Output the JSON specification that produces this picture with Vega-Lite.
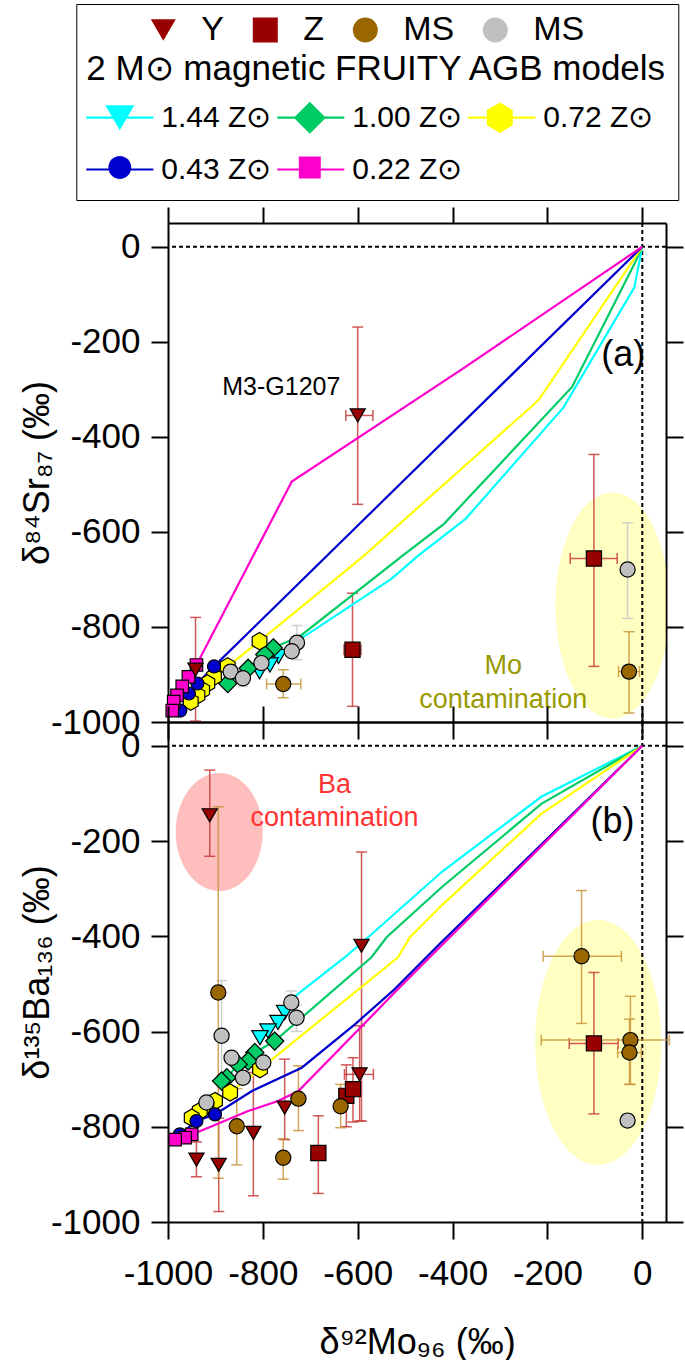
{
"$schema":"https://vega.github.io/schema/vega-lite/v6.json",
"background":"white",
"padding":{"left":19,"top":3,"right":0,"bottom":0},
"spacing":0,
"bounds":"flush",
"config":{
 "view":{"stroke":null},
 "axis":{"domainColor":"black","domainWidth":2,"tickColor":"black","tickWidth":2,"labelFont":"Liberation Sans","labelFontSize":35,"labelColor":"black","titleFont":"Liberation Sans","titleFontSize":36,"titleFontWeight":"normal","titleColor":"black","grid":false,"labelFlush":false,"labelOverlap":false},
 "legend":{"labelFont":"Liberation Sans","titleFont":"Liberation Sans","labelColor":"black","titleColor":"black","labelLimit":0,"titleLimit":0}
},
"datasets":{
 "origin":[{"x":0,"y":0}],
 "regions":[
  {"panel":"a","region":"Mo contamination","x":-63,"y":-755},
  {"panel":"b","region":"Mo contamination","x":-93,"y":-623},
  {"panel":"b","region":"Ba contamination","x":-892,"y":-181}
 ],
 "notes":[
  {"panel":"a","label":"(a)","x":-40,"y":-227},
  {"panel":"a","label":"M3-G1207","x":-761,"y":-295},
  {"panel":"a","label":"Mo\ncontamination","x":-293,"y":-882},
  {"panel":"b","label":"(b)","x":-63,"y":-160},
  {"panel":"b","label":"Ba\ncontamination","x":-649,"y":-82}
 ],
 "models":[
  {"panel":"a","model":"1.44 Z⊙","i":0,"x":0,"y":0,"phase":"O"},
  {"panel":"a","model":"1.44 Z⊙","i":1,"x":-17,"y":-86,"phase":"O"},
  {"panel":"a","model":"1.44 Z⊙","i":2,"x":-166,"y":-338,"phase":"O"},
  {"panel":"a","model":"1.44 Z⊙","i":3,"x":-372,"y":-572,"phase":"O"},
  {"panel":"a","model":"1.44 Z⊙","i":4,"x":-475,"y":-652,"phase":"O"},
  {"panel":"a","model":"1.44 Z⊙","i":5,"x":-529,"y":-699,"phase":"O"},
  {"panel":"a","model":"1.44 Z⊙","i":6,"x":-707,"y":-816,"phase":"O"},
  {"panel":"a","model":"1.44 Z⊙","i":7,"x":-750,"y":-844,"phase":"O"},
  {"panel":"a","model":"1.44 Z⊙","i":8,"x":-767,"y":-862,"phase":"C"},
  {"panel":"a","model":"1.44 Z⊙","i":9,"x":-785,"y":-880,"phase":"C"},
  {"panel":"a","model":"1.44 Z⊙","i":10,"x":-807,"y":-894,"phase":"C"},
  {"panel":"a","model":"1.00 Z⊙","i":0,"x":0,"y":0,"phase":"O"},
  {"panel":"a","model":"1.00 Z⊙","i":1,"x":-17,"y":-37,"phase":"O"},
  {"panel":"a","model":"1.00 Z⊙","i":2,"x":-148,"y":-295,"phase":"O"},
  {"panel":"a","model":"1.00 Z⊙","i":3,"x":-418,"y":-583,"phase":"O"},
  {"panel":"a","model":"1.00 Z⊙","i":4,"x":-508,"y":-652,"phase":"O"},
  {"panel":"a","model":"1.00 Z⊙","i":5,"x":-721,"y":-819,"phase":"O"},
  {"panel":"a","model":"1.00 Z⊙","i":6,"x":-778,"y":-844,"phase":"C"},
  {"panel":"a","model":"1.00 Z⊙","i":7,"x":-796,"y":-858,"phase":"C"},
  {"panel":"a","model":"1.00 Z⊙","i":8,"x":-831,"y":-887,"phase":"C"},
  {"panel":"a","model":"1.00 Z⊙","i":9,"x":-874,"y":-919,"phase":"C"},
  {"panel":"a","model":"0.72 Z⊙","i":0,"x":0,"y":0,"phase":"O"},
  {"panel":"a","model":"0.72 Z⊙","i":1,"x":-219,"y":-323,"phase":"O"},
  {"panel":"a","model":"0.72 Z⊙","i":2,"x":-589,"y":-652,"phase":"O"},
  {"panel":"a","model":"0.72 Z⊙","i":3,"x":-807,"y":-830,"phase":"C"},
  {"panel":"a","model":"0.72 Z⊙","i":4,"x":-874,"y":-883,"phase":"C"},
  {"panel":"a","model":"0.72 Z⊙","i":5,"x":-903,"y":-905,"phase":"C"},
  {"panel":"a","model":"0.72 Z⊙","i":6,"x":-917,"y":-919,"phase":"C"},
  {"panel":"a","model":"0.72 Z⊙","i":7,"x":-928,"y":-933,"phase":"C"},
  {"panel":"a","model":"0.72 Z⊙","i":8,"x":-938,"y":-944,"phase":"C"},
  {"panel":"a","model":"0.72 Z⊙","i":9,"x":-952,"y":-957,"phase":"C"},
  {"panel":"a","model":"0.43 Z⊙","i":0,"x":0,"y":0,"phase":"O"},
  {"panel":"a","model":"0.43 Z⊙","i":1,"x":-903,"y":-883,"phase":"C"},
  {"panel":"a","model":"0.43 Z⊙","i":2,"x":-938,"y":-919,"phase":"C"},
  {"panel":"a","model":"0.43 Z⊙","i":3,"x":-956,"y":-940,"phase":"C"},
  {"panel":"a","model":"0.43 Z⊙","i":4,"x":-974,"y":-976,"phase":"C"},
  {"panel":"a","model":"0.22 Z⊙","i":0,"x":0,"y":0,"phase":"O"},
  {"panel":"a","model":"0.22 Z⊙","i":1,"x":-379,"y":-257,"phase":"O"},
  {"panel":"a","model":"0.22 Z⊙","i":2,"x":-739,"y":-494,"phase":"O"},
  {"panel":"a","model":"0.22 Z⊙","i":3,"x":-940,"y":-880,"phase":"C"},
  {"panel":"a","model":"0.22 Z⊙","i":4,"x":-957,"y":-905,"phase":"C"},
  {"panel":"a","model":"0.22 Z⊙","i":5,"x":-970,"y":-925,"phase":"C"},
  {"panel":"a","model":"0.22 Z⊙","i":6,"x":-981,"y":-944,"phase":"C"},
  {"panel":"a","model":"0.22 Z⊙","i":7,"x":-988,"y":-957,"phase":"C"},
  {"panel":"a","model":"0.22 Z⊙","i":8,"x":-991,"y":-976,"phase":"C"},
  {"panel":"b","model":"1.44 Z⊙","i":0,"x":0,"y":0,"phase":"O"},
  {"panel":"b","model":"1.44 Z⊙","i":1,"x":-213,"y":-107,"phase":"O"},
  {"panel":"b","model":"1.44 Z⊙","i":2,"x":-423,"y":-265,"phase":"O"},
  {"panel":"b","model":"1.44 Z⊙","i":3,"x":-578,"y":-402,"phase":"O"},
  {"panel":"b","model":"1.44 Z⊙","i":4,"x":-627,"y":-444,"phase":"O"},
  {"panel":"b","model":"1.44 Z⊙","i":5,"x":-740,"y":-532,"phase":"O"},
  {"panel":"b","model":"1.44 Z⊙","i":6,"x":-754,"y":-560,"phase":"C"},
  {"panel":"b","model":"1.44 Z⊙","i":7,"x":-768,"y":-581,"phase":"C"},
  {"panel":"b","model":"1.44 Z⊙","i":8,"x":-789,"y":-599,"phase":"C"},
  {"panel":"b","model":"1.44 Z⊙","i":9,"x":-806,"y":-613,"phase":"C"},
  {"panel":"b","model":"1.00 Z⊙","i":0,"x":0,"y":0,"phase":"O"},
  {"panel":"b","model":"1.00 Z⊙","i":1,"x":-213,"y":-122,"phase":"O"},
  {"panel":"b","model":"1.00 Z⊙","i":2,"x":-423,"y":-297,"phase":"O"},
  {"panel":"b","model":"1.00 Z⊙","i":3,"x":-539,"y":-402,"phase":"O"},
  {"panel":"b","model":"1.00 Z⊙","i":4,"x":-571,"y":-444,"phase":"O"},
  {"panel":"b","model":"1.00 Z⊙","i":5,"x":-775,"y":-620,"phase":"C"},
  {"panel":"b","model":"1.00 Z⊙","i":6,"x":-817,"y":-644,"phase":"C"},
  {"panel":"b","model":"1.00 Z⊙","i":7,"x":-831,"y":-662,"phase":"C"},
  {"panel":"b","model":"1.00 Z⊙","i":8,"x":-852,"y":-669,"phase":"C"},
  {"panel":"b","model":"1.00 Z⊙","i":9,"x":-876,"y":-697,"phase":"C"},
  {"panel":"b","model":"1.00 Z⊙","i":10,"x":-887,"y":-704,"phase":"C"},
  {"panel":"b","model":"0.72 Z⊙","i":0,"x":0,"y":0,"phase":"O"},
  {"panel":"b","model":"0.72 Z⊙","i":1,"x":-213,"y":-143,"phase":"O"},
  {"panel":"b","model":"0.72 Z⊙","i":2,"x":-423,"y":-335,"phase":"O"},
  {"panel":"b","model":"0.72 Z⊙","i":3,"x":-490,"y":-402,"phase":"O"},
  {"panel":"b","model":"0.72 Z⊙","i":4,"x":-515,"y":-444,"phase":"O"},
  {"panel":"b","model":"0.72 Z⊙","i":5,"x":-806,"y":-679,"phase":"C"},
  {"panel":"b","model":"0.72 Z⊙","i":6,"x":-869,"y":-728,"phase":"C"},
  {"panel":"b","model":"0.72 Z⊙","i":7,"x":-901,"y":-746,"phase":"C"},
  {"panel":"b","model":"0.72 Z⊙","i":8,"x":-919,"y":-756,"phase":"C"},
  {"panel":"b","model":"0.72 Z⊙","i":9,"x":-933,"y":-767,"phase":"C"},
  {"panel":"b","model":"0.72 Z⊙","i":10,"x":-950,"y":-781,"phase":"C"},
  {"panel":"b","model":"0.43 Z⊙","i":0,"x":0,"y":0,"phase":"O"},
  {"panel":"b","model":"0.43 Z⊙","i":1,"x":-427,"y":-416,"phase":"O"},
  {"panel":"b","model":"0.43 Z⊙","i":2,"x":-522,"y":-511,"phase":"O"},
  {"panel":"b","model":"0.43 Z⊙","i":3,"x":-606,"y":-585,"phase":"O"},
  {"panel":"b","model":"0.43 Z⊙","i":4,"x":-718,"y":-676,"phase":"O"},
  {"panel":"b","model":"0.43 Z⊙","i":5,"x":-823,"y":-725,"phase":"O"},
  {"panel":"b","model":"0.43 Z⊙","i":6,"x":-901,"y":-774,"phase":"C"},
  {"panel":"b","model":"0.43 Z⊙","i":7,"x":-940,"y":-788,"phase":"C"},
  {"panel":"b","model":"0.43 Z⊙","i":8,"x":-975,"y":-816,"phase":"C"},
  {"panel":"b","model":"0.22 Z⊙","i":0,"x":0,"y":0,"phase":"O"},
  {"panel":"b","model":"0.22 Z⊙","i":1,"x":-427,"y":-423,"phase":"O"},
  {"panel":"b","model":"0.22 Z⊙","i":2,"x":-518,"y":-514,"phase":"O"},
  {"panel":"b","model":"0.22 Z⊙","i":3,"x":-725,"y":-725,"phase":"O"},
  {"panel":"b","model":"0.22 Z⊙","i":4,"x":-768,"y":-746,"phase":"O"},
  {"panel":"b","model":"0.22 Z⊙","i":5,"x":-831,"y":-767,"phase":"O"},
  {"panel":"b","model":"0.22 Z⊙","i":6,"x":-915,"y":-802,"phase":"O"},
  {"panel":"b","model":"0.22 Z⊙","i":7,"x":-950,"y":-816,"phase":"C"},
  {"panel":"b","model":"0.22 Z⊙","i":8,"x":-964,"y":-823,"phase":"C"},
  {"panel":"b","model":"0.22 Z⊙","i":9,"x":-985,"y":-827,"phase":"C"}
 ],
 "grains":[
  {"panel":"a","type":"Y","x":-600,"y":-355,"xlo":-625,"xhi":-568,"ylo":-542,"yhi":-169},
  {"panel":"a","type":"Y","x":-942,"y":-890,"ylo":-998,"yhi":-780},
  {"panel":"a","type":"Z","x":-611,"y":-848,"xlo":-629,"xhi":-593,"ylo":-967,"yhi":-729},
  {"panel":"a","type":"Z","x":-102,"y":-656,"xlo":-152,"xhi":-53,"ylo":-883,"yhi":-437},
  {"panel":"a","type":"MS","x":-757,"y":-920,"xlo":-792,"xhi":-720,"ylo":-949,"yhi":-890},
  {"panel":"a","type":"MS","x":-28,"y":-894,"xlo":-50,"xhi":-6,"ylo":-981,"yhi":-810},
  {"panel":"a","type":"MS-lit","x":-31,"y":-679,"ylo":-782,"yhi":-581},
  {"panel":"a","type":"MS-lit","x":-728,"y":-833,"ylo":-869,"yhi":-797},
  {"panel":"a","type":"MS-lit","x":-739,"y":-851},
  {"panel":"a","type":"MS-lit","x":-803,"y":-876},
  {"panel":"a","type":"MS-lit","x":-868,"y":-894},
  {"panel":"a","type":"MS-lit","x":-842,"y":-908,"ylo":-925,"yhi":-890},
  {"panel":"b","type":"Y","x":-912,"y":-146,"ylo":-232,"yhi":-51},
  {"panel":"b","type":"Y","x":-592,"y":-420,"ylo":-788,"yhi":-223},
  {"panel":"b","type":"Y","x":-596,"y":-690,"xlo":-628,"xhi":-567,"ylo":-788,"yhi":-588},
  {"panel":"b","type":"Y","x":-754,"y":-760,"ylo":-827,"yhi":-658},
  {"panel":"b","type":"Y","x":-820,"y":-813,"ylo":-945,"yhi":-686},
  {"panel":"b","type":"Y","x":-940,"y":-869,"ylo":-905,"yhi":-832},
  {"panel":"b","type":"Y","x":-893,"y":-880,"ylo":-978,"yhi":-782},
  {"panel":"b","type":"Z","x":-624,"y":-735,"ylo":-800,"yhi":-670},
  {"panel":"b","type":"Z","x":-610,"y":-721,"ylo":-790,"yhi":-655},
  {"panel":"b","type":"Z","x":-683,"y":-855,"ylo":-940,"yhi":-777},
  {"panel":"b","type":"Z","x":-102,"y":-625,"xlo":-154,"xhi":-51,"ylo":-773,"yhi":-476},
  {"panel":"b","type":"MS","x":-894,"y":-518,"ylo":-908,"yhi":-128},
  {"panel":"b","type":"MS","x":-855,"y":-799,"ylo":-880,"yhi":-720},
  {"panel":"b","type":"MS","x":-725,"y":-741,"ylo":-808,"yhi":-672},
  {"panel":"b","type":"MS","x":-636,"y":-757,"ylo":-802,"yhi":-711},
  {"panel":"b","type":"MS","x":-757,"y":-865,"ylo":-910,"yhi":-825},
  {"panel":"b","type":"MS","x":-128,"y":-442,"xlo":-209,"xhi":-44,"ylo":-583,"yhi":-304},
  {"panel":"b","type":"MS","x":-25,"y":-618,"xlo":-213,"xhi":57,"ylo":-711,"yhi":-526},
  {"panel":"b","type":"MS","x":-27,"y":-644,"xlo":-52,"xhi":-2,"ylo":-711,"yhi":-574},
  {"panel":"b","type":"MS-lit","x":-31,"y":-787},
  {"panel":"b","type":"MS-lit","x":-887,"y":-609,"ylo":-700,"yhi":-493},
  {"panel":"b","type":"MS-lit","x":-740,"y":-539,"ylo":-560,"yhi":-515},
  {"panel":"b","type":"MS-lit","x":-729,"y":-571,"ylo":-600,"yhi":-545},
  {"panel":"b","type":"MS-lit","x":-866,"y":-655},
  {"panel":"b","type":"MS-lit","x":-799,"y":-665},
  {"panel":"b","type":"MS-lit","x":-842,"y":-697},
  {"panel":"b","type":"MS-lit","x":-919,"y":-749}
 ]
},
"vconcat":[
 {
  "width":498,"height":499,
  "resolve":{"scale":{"fill":"independent","shape":"independent","stroke":"independent","color":"independent"},"axis":{"x":"independent","y":"independent"}},
  "layer":[
   {"data":{"name":"regions"},"transform":[{"filter":"datum.panel == 'a'"}],
    "mark":{"type":"point","shape":"M-0.504,0A0.504,1,0,1,0,0.504,0A0.504,1,0,1,0,-0.504,0Z","size":51076,"filled":true,"fill":"#FFFF66","opacity":1,"fillOpacity":0.4,"strokeWidth":0,"clip":true},
    "encoding":{"x":{"field":"x","type":"quantitative","scale":{"domain":[-1000,50],"nice":false,"zero":false},"axis":null},"y":{"field":"y","type":"quantitative","scale":{"domain":[-1000,50],"nice":false,"zero":false},"axis":null}}},
   {"data":{"name":"origin"},"mark":{"type":"rule","color":"black","strokeWidth":2,"strokeDash":[4,3]},
    "encoding":{"y":{"field":"y","type":"quantitative","scale":{"domain":[-1000,50],"nice":false,"zero":false},"axis":null}}},
   {"data":{"name":"origin"},"mark":{"type":"rule","color":"black","strokeWidth":2,"strokeDash":[4,3]},
    "encoding":{"x":{"field":"x","type":"quantitative","scale":{"domain":[-1000,50],"nice":false,"zero":false},"axis":null}}},
   {"data":{"name":"grains"},"transform":[{"filter":"datum.panel == 'a' && isValid(datum.ylo)"}],
    "mark":{"type":"errorbar","ticks":{"size":11},"thickness":1.5,"opacity":0.85},
    "encoding":{"x":{"field":"x","type":"quantitative","scale":{"domain":[-1000,50],"nice":false,"zero":false},"axis":null},
     "y":{"field":"ylo","type":"quantitative","scale":{"domain":[-1000,50],"nice":false,"zero":false},"axis":null},"y2":{"field":"yhi"},
     "color":{"field":"type","type":"nominal","scale":{"domain":["Y","Z","MS","MS-lit"],"range":["#C83C3C","#C83C3C","#C8963C","#C8C8C8"]},"legend":null}}},
   {"data":{"name":"grains"},"transform":[{"filter":"datum.panel == 'a' && isValid(datum.xlo)"}],
    "mark":{"type":"errorbar","ticks":{"size":11},"thickness":1.5,"opacity":0.85},
    "encoding":{"x":{"field":"xlo","type":"quantitative","scale":{"domain":[-1000,50],"nice":false,"zero":false},"axis":null},"x2":{"field":"xhi"},
     "y":{"field":"y","type":"quantitative","scale":{"domain":[-1000,50],"nice":false,"zero":false},"axis":null},
     "color":{"field":"type","type":"nominal","scale":{"domain":["Y","Z","MS","MS-lit"],"range":["#C83C3C","#C83C3C","#C8963C","#C8C8C8"]},"legend":null}}},
   {"data":{"name":"models"},"transform":[{"filter":"datum.panel == 'a'"}],
    "mark":{"type":"line","strokeWidth":2.2},
    "encoding":{
     "x":{"field":"x","type":"quantitative","scale":{"domain":[-1000,50],"nice":false,"zero":false},"axis":{"orient":"bottom","values":[-1000,-800,-600,-400,-200,0],"labels":false,"title":null,"tickSize":17}},
     "y":{"field":"y","type":"quantitative","scale":{"domain":[-1000,50],"nice":false,"zero":false},"axis":{"orient":"left","values":[-1000,-800,-600,-400,-200,0],"labelExpr":"'' + datum.value","title":"δ⁸⁴Sr₈₇ (‰)","tickSize":17,"labelPadding":11,"titlePadding":-6}},
     "stroke":{"field":"model","type":"nominal","scale":{"domain":["1.44 Z⊙","1.00 Z⊙","0.72 Z⊙","0.43 Z⊙","0.22 Z⊙"],"range":["#00FFFF","#00CC66","#FFFF00","#0000CC","#FF00CC"]},
      "legend":{"orient":"none","legendX":-91.7,"legendY":-219,"title":["","2 M⊙ magnetic FRUITY AGB models"],"titleFontSize":35,"titleFontWeight":"normal","titleLineHeight":38,"titleAnchor":"start","titlePadding":14,"columns":3,"direction":"horizontal","symbolType":"M-2.2,-1.05M2.2,1.05M-2.2,0L2.2,0","symbolSize":930,"symbolStrokeWidth":2.2,"symbolFillColor":"transparent","symbolOffset":17,"labelFontSize":30,"labelOffset":25,"columnPadding":0,"rowPadding":11,"padding":10,"strokeColor":"black"}},
     "order":{"field":"i","type":"quantitative"}}},
   {"data":{"name":"models"},"transform":[{"filter":"datum.panel == 'a' && datum.phase == 'C'"}],
    "mark":{"type":"point","filled":true,"opacity":1,"stroke":"black","strokeWidth":1.2,"size":300},
    "encoding":{
     "x":{"field":"x","type":"quantitative","scale":{"domain":[-1000,50],"nice":false,"zero":false},"axis":null},
     "y":{"field":"y","type":"quantitative","scale":{"domain":[-1000,50],"nice":false,"zero":false},"axis":null},
     "shape":{"field":"model","type":"nominal","scale":{"domain":["1.44 Z⊙","1.00 Z⊙","0.72 Z⊙","0.43 Z⊙","0.22 Z⊙"],"range":["M-2.2,-1.05M2.2,1.05M-0.95,-0.82L0.95,-0.82L0,0.82Z","M-2.2,-1.05M2.2,1.05M0,-1.05L1.05,0L0,1.05L-1.05,0Z","M-2.2,-1.05M2.2,1.05M0,-1L0.85,-0.5L0.85,0.5L0,1L-0.85,0.5L-0.85,-0.5Z","M-2.2,-1.05M2.2,1.05M-0.75,0A0.75,0.75,0,1,0,0.75,0A0.75,0.75,0,1,0,-0.75,0Z","M-2.2,-1.05M2.2,1.05M-0.72,-0.72L0.72,-0.72L0.72,0.72L-0.72,0.72Z"]},
      "legend":{"orient":"none","legendX":-91.7,"legendY":-219,"title":["","2 M⊙ magnetic FRUITY AGB models"],"titleFontSize":35,"titleFontWeight":"normal","titleLineHeight":38,"titleAnchor":"start","titlePadding":14,"titleOpacity":0,"columns":3,"direction":"horizontal","symbolSize":930,"symbolStrokeWidth":1.6,"symbolStrokeColor":"black","symbolOffset":17,"labelFontSize":30,"labelOffset":25,"labelOpacity":0,"columnPadding":0,"rowPadding":11,"padding":10}},
     "fill":{"field":"model","type":"nominal","scale":{"domain":["1.44 Z⊙","1.00 Z⊙","0.72 Z⊙","0.43 Z⊙","0.22 Z⊙"],"range":["#00FFFF","#00CC66","#FFFF00","#0000CC","#FF00CC"]},
      "legend":{"orient":"none","legendX":-91.7,"legendY":-219,"title":["","2 M⊙ magnetic FRUITY AGB models"],"titleFontSize":35,"titleFontWeight":"normal","titleLineHeight":38,"titleAnchor":"start","titlePadding":14,"titleOpacity":0,"columns":3,"direction":"horizontal","symbolSize":930,"symbolStrokeWidth":1.6,"symbolStrokeColor":"black","symbolOffset":17,"labelFontSize":30,"labelOffset":25,"labelOpacity":0,"columnPadding":0,"rowPadding":11,"padding":10}}}},
   {"data":{"name":"grains"},"transform":[{"filter":"datum.panel == 'a'"}],
    "mark":{"type":"point","filled":true,"opacity":1,"stroke":"black","strokeWidth":1.2,"size":230},
    "encoding":{
     "x":{"field":"x","type":"quantitative","scale":{"domain":[-1000,50],"nice":false,"zero":false},"axis":{"orient":"top","values":[-1000,-800,-600,-400,-200,0],"labels":false,"title":null,"tickSize":16}},
     "y":{"field":"y","type":"quantitative","scale":{"domain":[-1000,50],"nice":false,"zero":false},"axis":{"orient":"right","values":[-1000,-800,-600,-400,-200,0],"labels":false,"title":null,"tickSize":17}},
     "shape":{"field":"type","type":"nominal","scale":{"domain":["Y","Z","MS","MS-lit"],"range":["triangle-down","square","circle","circle"]},
      "legend":{"orient":"none","legendX":-21.7,"legendY":-210,"title":null,"direction":"horizontal","columns":4,"symbolSize":625,"symbolStrokeColor":"black","symbolStrokeWidth":1.5,"labelFontSize":34,"labelOffset":21,"columnPadding":24,"padding":0,"labelExpr":"datum.label == 'MS-lit' ? 'MS' : datum.label"}},
     "fill":{"field":"type","type":"nominal","scale":{"domain":["Y","Z","MS","MS-lit"],"range":["#990000","#990000","#996600","#C0C0C0"]},
      "legend":{"orient":"none","legendX":-21.7,"legendY":-210,"title":null,"direction":"horizontal","columns":4,"symbolSize":625,"symbolStrokeColor":"black","symbolStrokeWidth":1.5,"labelFontSize":34,"labelOffset":21,"columnPadding":24,"padding":0,"labelExpr":"datum.label == 'MS-lit' ? 'MS' : datum.label"}}}},
   {"data":{"name":"notes"},"transform":[{"filter":"datum.panel == 'a' && datum.label == '(a)'"}],
    "mark":{"type":"text","font":"Liberation Sans","fontSize":36,"color":"black","align":"center","baseline":"middle"},
    "encoding":{"x":{"field":"x","type":"quantitative","scale":{"domain":[-1000,50],"nice":false,"zero":false},"axis":null},"y":{"field":"y","type":"quantitative","scale":{"domain":[-1000,50],"nice":false,"zero":false},"axis":null},"text":{"field":"label","type":"nominal"}}},
   {"data":{"name":"notes"},"transform":[{"filter":"datum.panel == 'a' && datum.label == 'M3-G1207'"}],
    "mark":{"type":"text","font":"Liberation Sans","fontSize":25,"color":"black","align":"center","baseline":"middle"},
    "encoding":{"x":{"field":"x","type":"quantitative","scale":{"domain":[-1000,50],"nice":false,"zero":false},"axis":null},"y":{"field":"y","type":"quantitative","scale":{"domain":[-1000,50],"nice":false,"zero":false},"axis":null},"text":{"field":"label","type":"nominal"}}},
   {"data":{"name":"notes"},"transform":[{"filter":"datum.panel == 'a' && indexof(datum.label, 'contamination') >= 0"}],
    "mark":{"type":"text","font":"Liberation Sans","fontSize":27,"color":"#999900","align":"center","baseline":"middle","lineBreak":"\n","lineHeight":34},
    "encoding":{"x":{"field":"x","type":"quantitative","scale":{"domain":[-1000,50],"nice":false,"zero":false},"axis":null},"y":{"field":"y","type":"quantitative","scale":{"domain":[-1000,50],"nice":false,"zero":false},"axis":null},"text":{"field":"label","type":"nominal"}}}
  ]
 },
 {
  "width":498,"height":500,
  "resolve":{"scale":{"fill":"independent","shape":"independent","stroke":"independent","color":"independent"},"axis":{"x":"independent","y":"independent"}},
  "layer":[
   {"data":{"name":"regions"},"transform":[{"filter":"datum.panel == 'b' && datum.region == 'Mo contamination'"}],
    "mark":{"type":"point","shape":"M-0.514,0A0.514,1,0,1,0,0.514,0A0.514,1,0,1,0,-0.514,0Z","size":60025,"filled":true,"fill":"#FFFF66","opacity":1,"fillOpacity":0.4,"strokeWidth":0,"clip":true},
    "encoding":{"x":{"field":"x","type":"quantitative","scale":{"domain":[-1000,50],"nice":false,"zero":false},"axis":null},"y":{"field":"y","type":"quantitative","scale":{"domain":[-1000,50],"nice":false,"zero":false},"axis":null}}},
   {"data":{"name":"regions"},"transform":[{"filter":"datum.panel == 'b' && datum.region == 'Ba contamination'"}],
    "mark":{"type":"point","shape":"M-0.737,0A0.737,1,0,1,0,0.737,0A0.737,1,0,1,0,-0.737,0Z","size":13924,"filled":true,"fill":"#FF4444","opacity":1,"fillOpacity":0.35,"strokeWidth":0,"clip":true},
    "encoding":{"x":{"field":"x","type":"quantitative","scale":{"domain":[-1000,50],"nice":false,"zero":false},"axis":null},"y":{"field":"y","type":"quantitative","scale":{"domain":[-1000,50],"nice":false,"zero":false},"axis":null}}},
   {"data":{"name":"origin"},"mark":{"type":"rule","color":"black","strokeWidth":2,"strokeDash":[4,3]},
    "encoding":{"y":{"field":"y","type":"quantitative","scale":{"domain":[-1000,50],"nice":false,"zero":false},"axis":null}}},
   {"data":{"name":"origin"},"mark":{"type":"rule","color":"black","strokeWidth":2,"strokeDash":[4,3]},
    "encoding":{"x":{"field":"x","type":"quantitative","scale":{"domain":[-1000,50],"nice":false,"zero":false},"axis":null}}},
   {"data":{"name":"grains"},"transform":[{"filter":"datum.panel == 'b' && isValid(datum.ylo)"}],
    "mark":{"type":"errorbar","ticks":{"size":11},"thickness":1.5,"opacity":0.85},
    "encoding":{"x":{"field":"x","type":"quantitative","scale":{"domain":[-1000,50],"nice":false,"zero":false},"axis":null},
     "y":{"field":"ylo","type":"quantitative","scale":{"domain":[-1000,50],"nice":false,"zero":false},"axis":null},"y2":{"field":"yhi"},
     "color":{"field":"type","type":"nominal","scale":{"domain":["Y","Z","MS","MS-lit"],"range":["#C83C3C","#C83C3C","#C8963C","#C8C8C8"]},"legend":null}}},
   {"data":{"name":"grains"},"transform":[{"filter":"datum.panel == 'b' && isValid(datum.xlo)"}],
    "mark":{"type":"errorbar","ticks":{"size":11},"thickness":1.5,"opacity":0.85},
    "encoding":{"x":{"field":"xlo","type":"quantitative","scale":{"domain":[-1000,50],"nice":false,"zero":false},"axis":null},"x2":{"field":"xhi"},
     "y":{"field":"y","type":"quantitative","scale":{"domain":[-1000,50],"nice":false,"zero":false},"axis":null},
     "color":{"field":"type","type":"nominal","scale":{"domain":["Y","Z","MS","MS-lit"],"range":["#C83C3C","#C83C3C","#C8963C","#C8C8C8"]},"legend":null}}},
   {"data":{"name":"models"},"transform":[{"filter":"datum.panel == 'b'"}],
    "mark":{"type":"line","strokeWidth":2.2},
    "encoding":{
     "x":{"field":"x","type":"quantitative","scale":{"domain":[-1000,50],"nice":false,"zero":false},"axis":{"orient":"bottom","values":[-1000,-800,-600,-400,-200,0],"labelExpr":"'' + datum.value","title":"δ⁹²Mo₉₆ (‰)","tickSize":17,"labelPadding":17,"titlePadding":34}},
     "y":{"field":"y","type":"quantitative","scale":{"domain":[-1000,50],"nice":false,"zero":false},"axis":{"orient":"left","values":[-1000,-800,-600,-400,-200,0],"labelExpr":"'' + datum.value","title":"δ¹³⁵Ba₁₃₆ (‰)","tickSize":17,"labelPadding":11,"titlePadding":-6}},
     "stroke":{"field":"model","type":"nominal","scale":{"domain":["1.44 Z⊙","1.00 Z⊙","0.72 Z⊙","0.43 Z⊙","0.22 Z⊙"],"range":["#00FFFF","#00CC66","#FFFF00","#0000CC","#FF00CC"]},"legend":null},
     "order":{"field":"i","type":"quantitative"}}},
   {"data":{"name":"models"},"transform":[{"filter":"datum.panel == 'b' && datum.phase == 'C'"}],
    "mark":{"type":"point","filled":true,"opacity":1,"stroke":"black","strokeWidth":1.2,"size":300},
    "encoding":{
     "x":{"field":"x","type":"quantitative","scale":{"domain":[-1000,50],"nice":false,"zero":false},"axis":null},
     "y":{"field":"y","type":"quantitative","scale":{"domain":[-1000,50],"nice":false,"zero":false},"axis":null},
     "shape":{"field":"model","type":"nominal","scale":{"domain":["1.44 Z⊙","1.00 Z⊙","0.72 Z⊙","0.43 Z⊙","0.22 Z⊙"],"range":["M-2.2,-1.05M2.2,1.05M-0.95,-0.82L0.95,-0.82L0,0.82Z","M-2.2,-1.05M2.2,1.05M0,-1.05L1.05,0L0,1.05L-1.05,0Z","M-2.2,-1.05M2.2,1.05M0,-1L0.85,-0.5L0.85,0.5L0,1L-0.85,0.5L-0.85,-0.5Z","M-2.2,-1.05M2.2,1.05M-0.75,0A0.75,0.75,0,1,0,0.75,0A0.75,0.75,0,1,0,-0.75,0Z","M-2.2,-1.05M2.2,1.05M-0.72,-0.72L0.72,-0.72L0.72,0.72L-0.72,0.72Z"]},"legend":null},
     "fill":{"field":"model","type":"nominal","scale":{"domain":["1.44 Z⊙","1.00 Z⊙","0.72 Z⊙","0.43 Z⊙","0.22 Z⊙"],"range":["#00FFFF","#00CC66","#FFFF00","#0000CC","#FF00CC"]},"legend":null}}},
   {"data":{"name":"grains"},"transform":[{"filter":"datum.panel == 'b'"}],
    "mark":{"type":"point","filled":true,"opacity":1,"stroke":"black","strokeWidth":1.2,"size":230},
    "encoding":{
     "x":{"field":"x","type":"quantitative","scale":{"domain":[-1000,50],"nice":false,"zero":false},"axis":{"orient":"top","values":[-1000,-800,-600,-400,-200,0],"labels":false,"title":null,"tickSize":16}},
     "y":{"field":"y","type":"quantitative","scale":{"domain":[-1000,50],"nice":false,"zero":false},"axis":{"orient":"right","values":[-1000,-800,-600,-400,-200,0],"labels":false,"title":null,"tickSize":17}},
     "shape":{"field":"type","type":"nominal","scale":{"domain":["Y","Z","MS","MS-lit"],"range":["triangle-down","square","circle","circle"]},"legend":null},
     "fill":{"field":"type","type":"nominal","scale":{"domain":["Y","Z","MS","MS-lit"],"range":["#990000","#990000","#996600","#C0C0C0"]},"legend":null}}},
   {"data":{"name":"notes"},"transform":[{"filter":"datum.panel == 'b' && datum.label == '(b)'"}],
    "mark":{"type":"text","font":"Liberation Sans","fontSize":36,"color":"black","align":"center","baseline":"middle"},
    "encoding":{"x":{"field":"x","type":"quantitative","scale":{"domain":[-1000,50],"nice":false,"zero":false},"axis":null},"y":{"field":"y","type":"quantitative","scale":{"domain":[-1000,50],"nice":false,"zero":false},"axis":null},"text":{"field":"label","type":"nominal"}}},
   {"data":{"name":"notes"},"transform":[{"filter":"datum.panel == 'b' && indexof(datum.label, 'contamination') >= 0"}],
    "mark":{"type":"text","font":"Liberation Sans","fontSize":27,"color":"#FF3333","align":"center","baseline":"middle","lineBreak":"\n","lineHeight":33},
    "encoding":{"x":{"field":"x","type":"quantitative","scale":{"domain":[-1000,50],"nice":false,"zero":false},"axis":null},"y":{"field":"y","type":"quantitative","scale":{"domain":[-1000,50],"nice":false,"zero":false},"axis":null},"text":{"field":"label","type":"nominal"}}}
  ]
 }
]
}
